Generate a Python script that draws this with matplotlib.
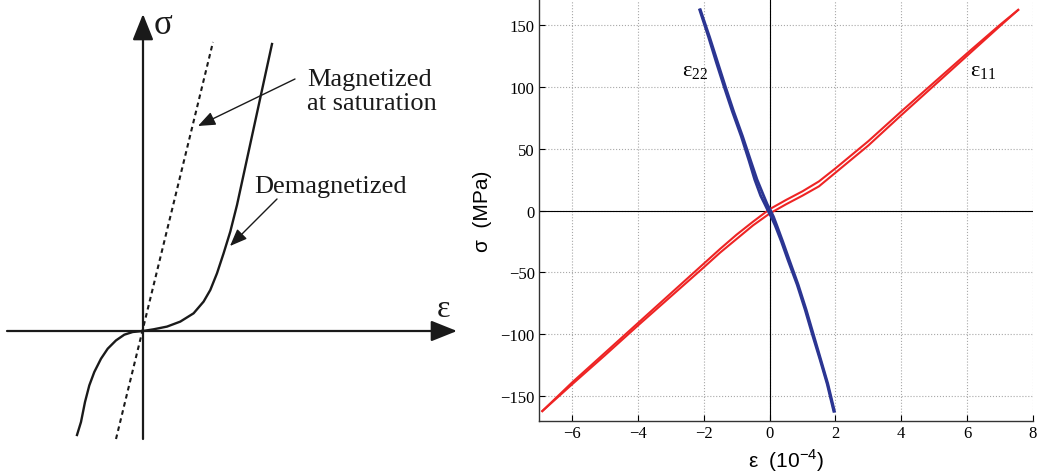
import matplotlib
matplotlib.use("Agg")
import matplotlib.pyplot as plt

plt.rcParams['font.family'] = ['Liberation Serif', 'DejaVu Serif']
plt.rcParams['mathtext.fontset'] = 'custom'
plt.rcParams['mathtext.rm'] = 'Liberation Serif'
plt.rcParams['mathtext.sf'] = 'Liberation Sans'

# --- left panel: schematic curves (schematic units, origin at axis cross) ---
demag_eps = [-66, -62, -58, -53.7, -48.7, -42, -35.3, -27, -18.7, -10.3, 0,
             10.6, 24, 37.3, 50.6, 60.6, 67.3, 74, 80.6, 87.3, 94, 129]
demag_sig = [-104, -91, -71, -54.4, -41, -27.7, -17.7, -9.4, -3.7, -1, 0,
             1.7, 4.4, 9.4, 17.7, 29.4, 41, 57.7, 77.7, 99.4, 126, 287]
sat_eps = [-27, 70]
sat_sig = [-108, 289]

# --- right panel: measured loops (eps in 1e-4, sigma in MPa) ---
e11_eps = [-6.9, -6, -5, -4, -3, -2, -1.5, -1, -0.5, 0, 0.5, 1, 1.5, 2, 3, 4, 5, 6, 7, 7.55]
e11_sig_up = [-162, -139, -115, -91, -67, -43, -31, -19.5, -9, 1, 8.5, 15.5, 23.5, 34, 56, 80, 103.5, 127, 150, 162]
e11_sig_lo = [-162, -140.5, -117, -93, -69.5, -46, -34, -23, -12, -2.5, 5, 12, 19.5, 30.5, 52.5, 77, 101, 125, 149, 162]

e22_sig = [162, 140, 120, 100, 80, 60, 40, 25, 12, 5, 0, -5, -12, -25, -40, -60, -80, -100, -120, -140, -162]
e22_eps_a = [-2.12, -1.85, -1.62, -1.38, -1.13, -0.86, -0.62, -0.45, -0.27, -0.14, -0.05,
             0.05, 0.17, 0.36, 0.56, 0.84, 1.08, 1.30, 1.53, 1.75, 1.95]
e22_eps_b = [-2.10, -1.82, -1.58, -1.34, -1.09, -0.82, -0.57, -0.38, -0.18, -0.07, 0.03,
             0.12, 0.22, 0.40, 0.60, 0.87, 1.11, 1.33, 1.55, 1.77, 1.97]

xticks = [-6, -4, -2, 0, 2, 4, 6, 8]
yticks = [-150, -100, -50, 0, 50, 100, 150]

fig = plt.figure(figsize=(10.41, 4.77), dpi=100)

# ---------------- left schematic ----------------
axl = fig.add_axes([0, 0, 460 / 1041, 1])
axl.set_xlim(-143, 317)
axl.set_ylim(-145, 332)
axl.axis('off')

head_big = dict(arrowstyle='-|>,head_length=0.8,head_width=0.32', mutation_scale=20,
                lw=1.6, color='#1a1a1a', shrinkA=0, shrinkB=0)
axl.annotate('', xy=(0, 317), xytext=(0, -108), arrowprops=head_big)
axl.annotate('', xy=(314, 0), xytext=(-136, 0), arrowprops=head_big)

axl.plot(demag_eps, demag_sig, color='#1a1a1a', lw=1.7, solid_joinstyle='round')
axl.plot(sat_eps, sat_sig, color='#1a1a1a', lw=1.5, linestyle=(0, (2.2, 1.8)))

head_small = dict(arrowstyle='-|>,head_length=0.7,head_width=0.28', mutation_scale=15,
                  lw=1.0, color='#1a1a1a', shrinkA=0, shrinkB=0)
axl.annotate('', xy=(55, 205), xytext=(152, 252), arrowprops=head_small)
axl.annotate('', xy=(87, 85), xytext=(134, 132), arrowprops=head_small)

axl.text(164, 240, 'Magnetized\nat saturation', fontsize=19, ha='left', va='center',
         linespacing=1.15, color='#1a1a1a')
axl.text(111, 145, 'Demagnetized', fontsize=19, ha='left', va='center', color='#1a1a1a')
axl.text(20, 307, 'σ', fontsize=25, ha='center', va='center', color='#1a1a1a')
axl.text(300, 22, 'ε', fontsize=23, ha='center', va='center', color='#1a1a1a')

# ---------------- right measured plot ----------------
ax = fig.add_axes([539 / 1041, 55 / 477, 494 / 1041, 421 / 477])
ax.plot(e11_eps, e11_sig_up, color='#ee2424', lw=1.5)
ax.plot(e11_eps, e11_sig_lo, color='#ee2424', lw=1.5)
ax.plot(e22_eps_a, e22_sig, color='#2b3592', lw=2.0)
ax.plot(e22_eps_b, e22_sig, color='#2b3592', lw=2.0)

ax.axhline(0, color='black', lw=0.8, zorder=1)
ax.axvline(0, color='black', lw=0.8, zorder=1)

ax.set_xlim(-7, 8)
ax.set_ylim(-170, 170)
ax.set_xticks(xticks)
ax.set_yticks(yticks)
ax.grid(True, linestyle=':', color='#a8a8a8', lw=0.8)
ax.set_axisbelow(True)
for s in ['top', 'right']:
    ax.spines[s].set_visible(False)
for s in ['left', 'bottom']:
    ax.spines[s].set_color('#333333')
    ax.spines[s].set_linewidth(1.0)
ax.tick_params(direction='in', length=4, width=0.8, labelsize=12, pad=3)

ax.set_ylabel('σ  (MPa)', family='Liberation Sans', fontsize=15, labelpad=6)
ax.set_xlabel('ε  (10$^{\\mathsf{-4}}$)', family='Liberation Sans', fontsize=15, labelpad=4)

ax.text(-2.65, 112, 'ε$_{\\mathrm{22}}$', fontsize=16, ha='left', va='center')
ax.text(6.1, 112, 'ε$_{\\mathrm{11}}$', fontsize=16, ha='left', va='center')

fig.savefig('out.png', dpi=100)
